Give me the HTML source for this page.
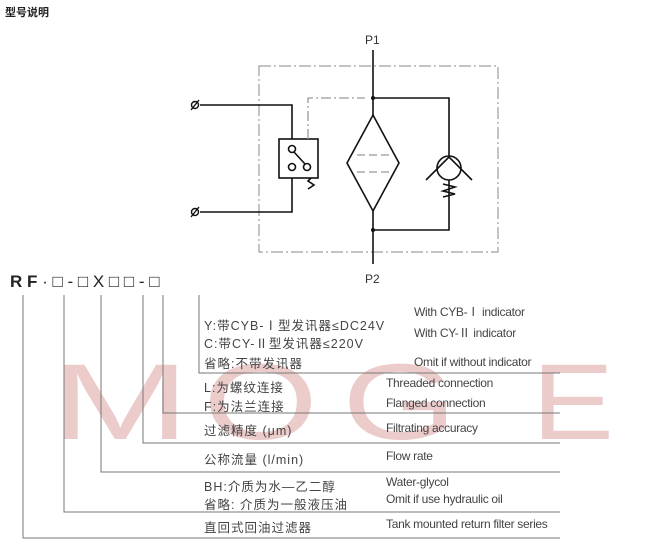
<!DOCTYPE html><html><head><meta charset="utf-8"><style>
body{margin:0;width:670px;height:546px;background:#fff;overflow:hidden;position:relative;font-family:"Liberation Sans","Noto Sans CJK SC",sans-serif}
.t{position:absolute;white-space:nowrap;color:#333}
.c{font-size:12.5px;color:#444;letter-spacing:1px}
.e{font-size:12px;color:#444;letter-spacing:-0.3px}
</style></head><body>
<svg width="670" height="546" style="position:absolute;left:0;top:0">
<g fill="#e0aaaa" opacity="0.6" font-family="Liberation Sans" font-size="108" font-weight="100">
<text x="50" y="439" textLength="140" lengthAdjust="spacingAndGlyphs">M</text>
<text x="203" y="439" textLength="115" lengthAdjust="spacingAndGlyphs">O</text>
<text x="342" y="439" textLength="115" lengthAdjust="spacingAndGlyphs">G</text>
<text x="532" y="439" textLength="82" lengthAdjust="spacingAndGlyphs">E</text>
</g>
<rect x="259" y="66" width="239" height="186" fill="none" stroke="#888" stroke-width="1" stroke-dasharray="12,3,2,3"/>
<g stroke="#111" stroke-width="1.6" fill="none">
<line x1="373" y1="50" x2="373" y2="115"/>
<line x1="373" y1="211" x2="373" y2="264"/>
<polyline points="373,98 449,98 449,156"/>
<polyline points="449,180 449,230 373,230"/>
<polygon points="373,115 399,163 373,211 347,163"/>
<circle cx="449" cy="168" r="12"/>
<polyline points="426,180 449,157 472,180"/>
<polyline points="443,184 455,187 443,191 455,194 443,197"/>
<rect x="279" y="139" width="39" height="39"/>
<circle cx="292" cy="149" r="3.5"/><circle cx="292" cy="167" r="3.5"/><circle cx="307" cy="167" r="3.5"/>
<line x1="294" y1="152" x2="305" y2="164"/>
<polyline points="311,178 308,181 314,185 308,189"/>
<polyline points="200,105 292,105 292,139"/>
<polyline points="200,212 292,212 292,178"/>
</g>
<g stroke="#999" stroke-width="1.2" stroke-dasharray="8,4">
<line x1="357" y1="155" x2="389" y2="155"/><line x1="357" y1="172" x2="389" y2="172"/>
</g>
<circle cx="373" cy="98" r="2" fill="#111"/><circle cx="373" cy="230" r="2" fill="#111"/>
<polyline points="308,139 308,98 365,98" fill="none" stroke="#999" stroke-width="1.3" stroke-dasharray="10,3,2,3"/>
<g stroke="#111" stroke-width="1.4" fill="none">
<circle cx="195" cy="105" r="3.5"/><line x1="191" y1="110" x2="199" y2="100"/>
<circle cx="195" cy="212" r="3.5"/><line x1="191" y1="217" x2="199" y2="207"/>
</g>
<g stroke="#777" stroke-width="1" fill="none">
<polyline points="23,295 23,538 560,538"/>
<polyline points="64,295 64,512 560,512"/>
<polyline points="101,295 101,472 560,472"/>
<polyline points="143,295 143,443 560,443"/>
<polyline points="163,295 163,413 560,413"/>
<polyline points="199,295 199,373 560,373"/>
</g>
</svg>
<div class="t" style="left:5px;top:4px;font-size:11px;font-weight:bold;color:#222">型号说明</div>
<div class="t" style="left:365px;top:33px;font-size:12px">P1</div>
<div class="t" style="left:365px;top:272px;font-size:12px">P2</div>
<div class="t" style="left:10px;top:272px;font-size:17px;color:#222"><b>R F</b> · □ - □ X □ □ - □</div>
<div class="t c" style="left:204px;top:315px">Y:带CYB-Ⅰ型发讯器≤DC24V</div>
<div class="t c" style="left:204px;top:333px">C:带CY-Ⅱ型发讯器≤220V</div>
<div class="t c" style="left:204px;top:353px">省略:不带发讯器</div>
<div class="t c" style="left:204px;top:377px">L:为螺纹连接</div>
<div class="t c" style="left:204px;top:396px">F:为法兰连接</div>
<div class="t c" style="left:204px;top:420px">过滤精度 (μm)</div>
<div class="t c" style="left:204px;top:449px">公称流量 (l/min)</div>
<div class="t c" style="left:204px;top:476px">BH:介质为水—乙二醇</div>
<div class="t c" style="left:204px;top:494px">省略: 介质为一般液压油</div>
<div class="t c" style="left:204px;top:517px">直回式回油过滤器</div>
<div class="t e" style="left:414px;top:303px">With CYB-Ⅰ indicator</div>
<div class="t e" style="left:414px;top:324px">With CY-Ⅱ indicator</div>
<div class="t e" style="left:414px;top:355px">Omit if without indicator</div>
<div class="t e" style="left:386px;top:376px">Threaded connection</div>
<div class="t e" style="left:386px;top:396px">Flanged connection</div>
<div class="t e" style="left:386px;top:421px">Filtrating accuracy</div>
<div class="t e" style="left:386px;top:449px">Flow rate</div>
<div class="t e" style="left:386px;top:475px">Water-glycol</div>
<div class="t e" style="left:386px;top:492px">Omit if use hydraulic oil</div>
<div class="t e" style="left:386px;top:517px">Tank mounted return filter series</div>
</body></html>
